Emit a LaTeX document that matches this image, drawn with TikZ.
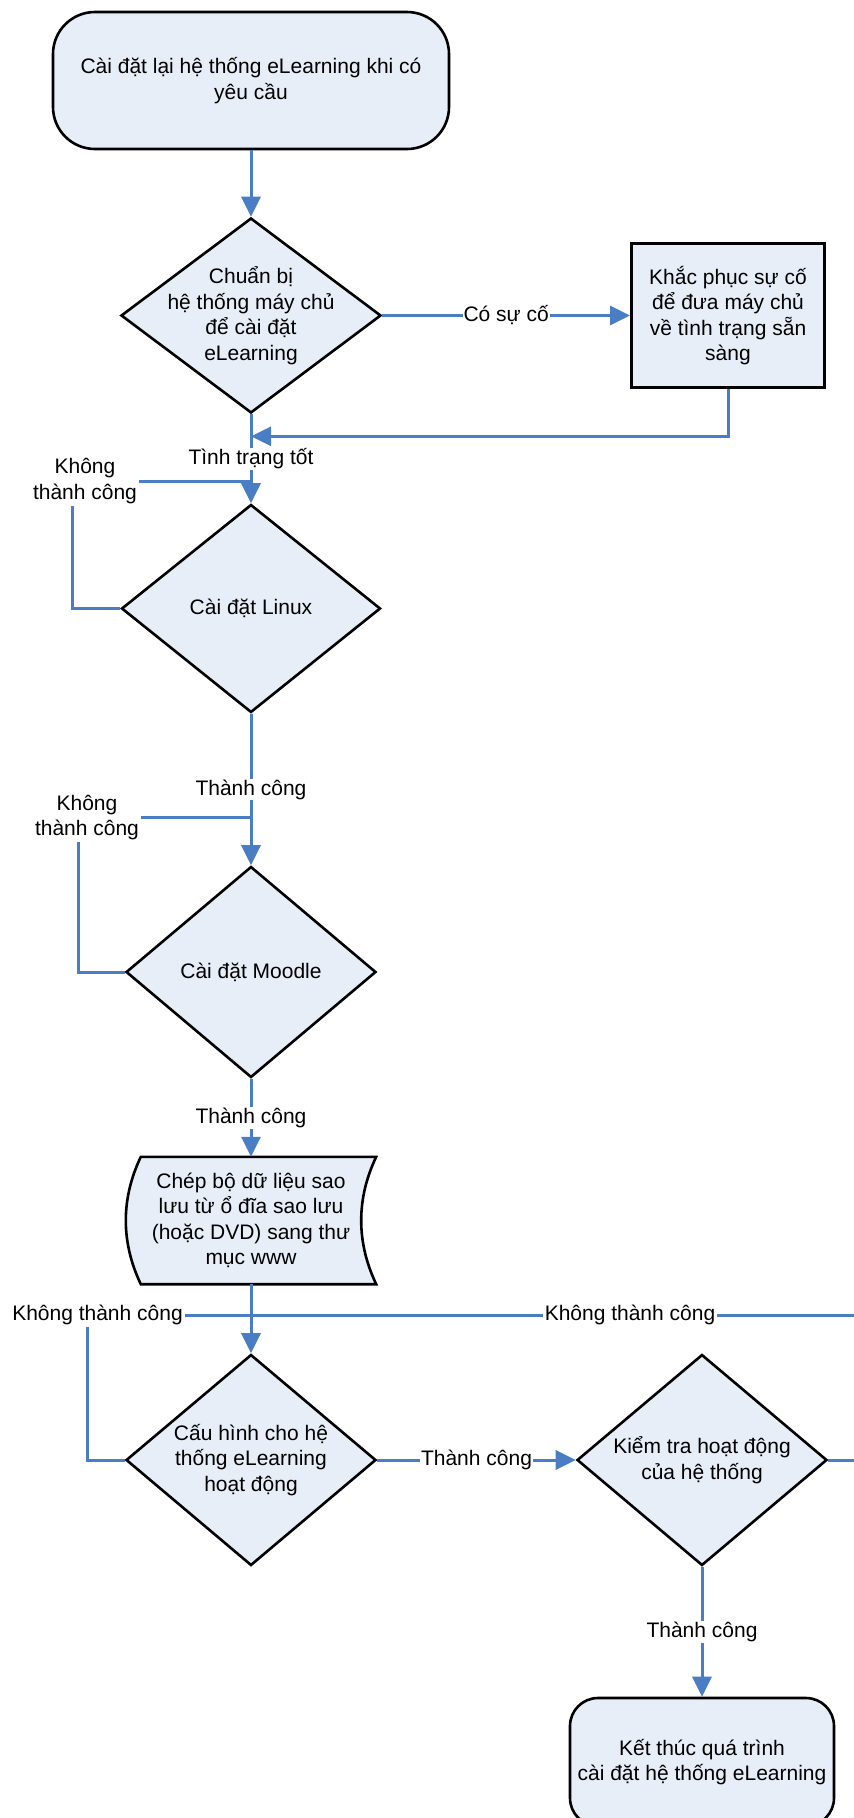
\documentclass[tikz,border=0pt]{standalone}
\usepackage{fontspec}
\setmainfont{Liberation Sans}
\usepackage{xcolor}
\usepackage{tikz}
\usetikzlibrary{shapes.geometric,positioning,arrows.meta,backgrounds}
\definecolor{lineblue}{RGB}{74,126,196}
\definecolor{boxfill}{RGB}{232,238,248}

\begin{document}
\begin{tikzpicture}[x=1pt, y=-1pt, on grid,
    font=\fontsize{21}{25.5}\selectfont,
    >={Triangle[length=20pt,width=19pt]},
    terminal/.style={rectangle, draw, line width=2.6pt, fill=boxfill, align=center},
    decision/.style={diamond, draw, line width=2.6pt, fill=boxfill, align=center,
      inner sep=-12pt, aspect=1.2, minimum width=250pt, minimum height=211pt},
    process/.style={rectangle, draw, line width=2.8pt, fill=boxfill, align=center},
    conn/.style={draw, color=lineblue, line width=3pt},
    lbl/.style={fill=white, text=black, inner sep=1pt},
    fail/.style={align=center, inner sep=2pt}]
        \useasboundingbox (0,0) rectangle (854,1818);
        \node[terminal, rounded corners=42pt, minimum width=396pt, minimum height=137pt]
              (start) at (251,80.5) {Cài đặt lại hệ thống eLearning khi có\\yêu cầu};
        \node[decision, aspect=1.33, minimum width=260pt, minimum height=195pt]
              (d1)   [below=235pt of start] {Chuẩn bị\\hệ thống máy chủ\\để cài đặt\\eLearning};
        \node[process, minimum width=193pt, minimum height=144pt]
              (fix)  [right=477pt of d1]    {Khắc phục sự cố\\để đưa máy chủ\\về tình trạng sẵn\\sàng};
        \node[decision, minimum width=259pt, minimum height=208pt]
              (d2)   [below=293pt of d1]    {Cài đặt Linux};
        \node[decision] (d3)   [below=363.5pt of d2]  {Cài đặt Moodle};
        \node[align=center, minimum width=250pt, minimum height=127pt]
              (copy) [below=248.5pt of d3]  {Chép bộ dữ liệu sao\\lưu từ ổ đĩa sao lưu\\(hoặc DVD) sang thư\\mục www};
        \node[decision] (d4)   [below=239.5pt of copy] {Cấu hình cho hệ\\thống eLearning\\hoạt động};
        \node[decision] (d5)   [right=451pt of d4]    {Kiểm tra hoạt động\\của hệ thống};
        \node[terminal, rounded corners=28pt, minimum width=264pt, minimum height=128pt]
              (end)  [below=302pt of d5]    {Kết thúc quá trình\\cài đặt hệ thống eLearning};
        \coordinate[below=22pt of d1.south] (back);
        \node[fail] (fail1) [above left=127.5pt and 166pt of d2] {Không\\thành công};
        \node[fail] (fail2) [above left=154.5pt and 164pt of d3] {Không\\thành công};
        \node[fail] (fail3) [above left=145pt and 153.5pt of d4] {Không thành công};
        \node[fail] (fail4) [above left=145pt and 72pt of d5]    {Không thành công};
        % stored data shape behind the copy step
        \begin{scope}[on background layer]
          \draw[line width=2.6pt, fill=boxfill] ([xshift=15pt]copy.north west) -- (copy.north east)
            .. controls ([xshift=-20pt,yshift=-42pt]copy.north east) and ([xshift=-20pt,yshift=42pt]copy.south east) .. (copy.south east)
            -- ([xshift=15pt]copy.south west)
            .. controls ([xshift=-5pt,yshift=42pt]copy.south west) and ([xshift=-5pt,yshift=-42pt]copy.north west) .. ([xshift=15pt]copy.north west)
            -- cycle;
        \end{scope}
        \path[conn, ->]
        (start) edge (d1)
        (d1) edge node[lbl] {Có sự cố} (fix)
        (d1) edge node[lbl] {Tình trạng tốt} (d2)
        (d2) edge node[lbl] {Thành công} (d3)
        (d3) edge node[lbl] {Thành công} (copy)
        (copy) edge (d4)
        (d4) edge node[lbl] {Thành công} (d5)
        (d5) edge node[lbl] {Thành công} (end);
        \draw[conn, ->] (fix) |- (back);
        \draw[conn] (d2.west) -| ([xshift=-13pt]fail1.south);
        \draw[conn] (fail1.east) -- (fail1.east -| d2.north);
        \draw[conn] (d3.west) -| ([xshift=-9pt]fail2.south);
        \draw[conn] (fail2.east) -- (fail2.east -| d3.north);
        \draw[conn] (d4.west) -| ([xshift=-10.5pt]fail3.south);
        \draw[conn] (fail3.east) -- (fail3.east -| d4.north);
        \draw[conn] (d5.east) -- ++(40pt,0) |- (fail4.east);
        \draw[conn] (fail4.west) -- (fail4.west -| copy.south);
\end{tikzpicture}
\end{document}
